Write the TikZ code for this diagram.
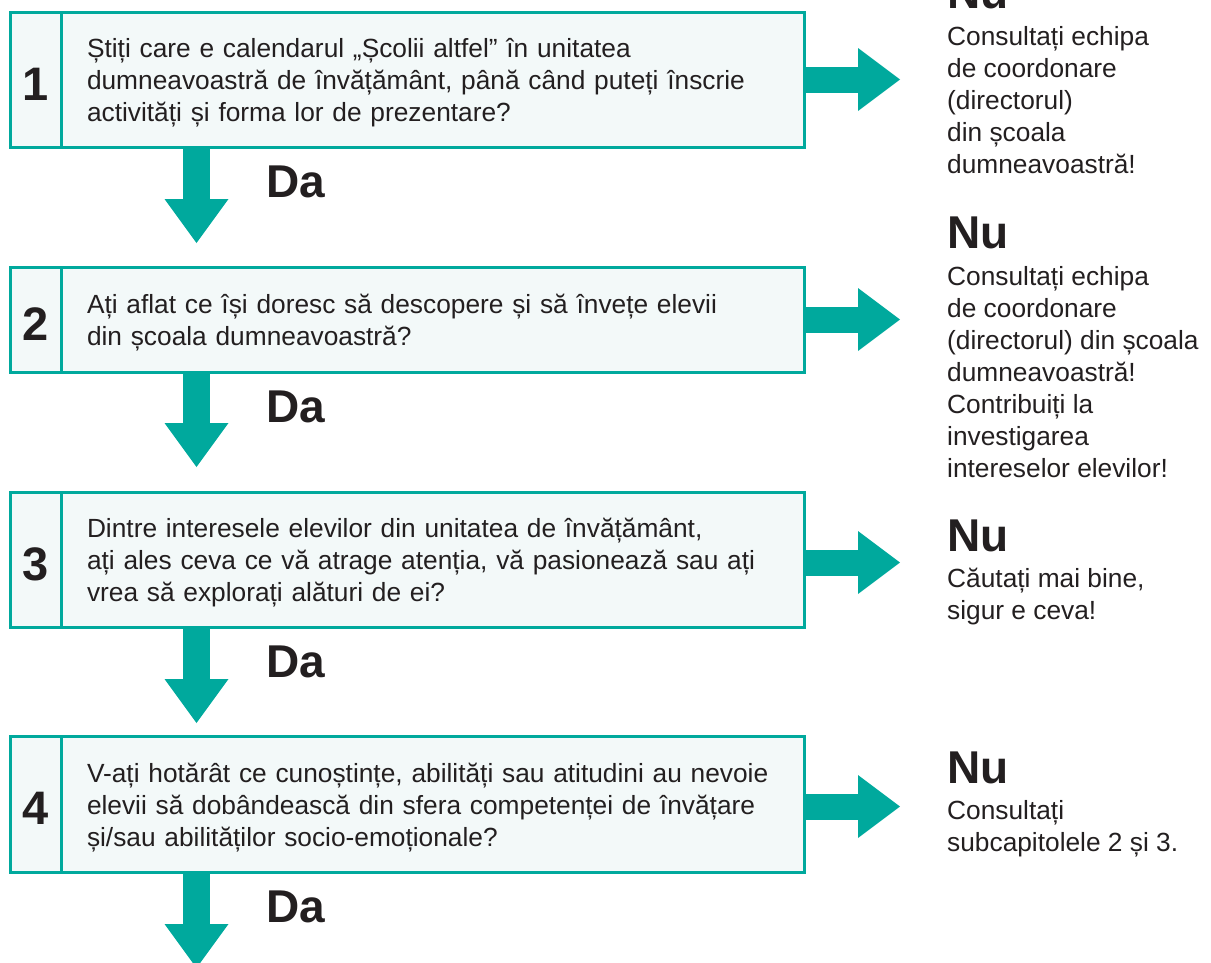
\documentclass[tikz,border=0pt]{standalone}
\usepackage{fontspec}
\setmainfont{Liberation Sans}
\usetikzlibrary{arrows.meta, positioning, calc}

\definecolor{tealc}{HTML}{00A99D}
\definecolor{boxfill}{HTML}{F3F9F9}
\definecolor{ink}{HTML}{231F20}

\begin{document}
\begin{tikzpicture}[x=1pt, y=-1pt,
    cell/.style={draw=tealc, line width=3pt, fill=boxfill, outer sep=0pt, text=ink},
    numcell/.style={cell, minimum width=51pt, inner sep=0pt, text height=41pt, text depth=0pt, font=\bfseries\fontsize{47}{47}\selectfont},
    qcell/.style={cell, text width=691pt, inner xsep=26pt, inner ysep=0pt, align=left, font=\fontsize{26.3}{32}\selectfont,
        execute at begin node={\rule{0pt}{30pt}}, execute at end node={\rule[-10pt]{0pt}{10pt}}},
    dnarrow/.style={draw=tealc, line width=27pt, shorten <=1.5pt, -{Triangle[length=44pt, width=64pt, line width=0pt]}},
    rtarrow/.style={draw=tealc, line width=26pt, shorten <=2pt, -{Triangle[length=42pt, width=63pt, line width=0pt]}},
    bigword/.style={anchor=base west, inner sep=0pt, text=ink, font=\bfseries\fontsize{46}{46}\selectfont},
    nutext/.style={anchor=base west, inner sep=0pt, text=ink, align=left, font=\fontsize{26.3}{32}\selectfont}]

    \useasboundingbox (0,0) rectangle (1211,962);

    % questions
    \node[numcell, minimum height=135pt] (n1) at (35.5,79.5) {1};
    \node[qcell, minimum height=135pt, right=0pt of n1] (q1) {Știți care e calendarul „Școlii altfel” în unitatea\\dumneavoastră de învățământ, până când puteți înscrie\\activități și forma lor de prezentare?};

    \node[numcell, minimum height=105pt] (n2) at (35.5,319.5) {2};
    \node[qcell, minimum height=105pt, right=0pt of n2] (q2) {Ați aflat ce își doresc să descopere și să învețe elevii\\din școala dumneavoastră?};

    \node[numcell, minimum height=135pt] (n3) at (35.5,559.5) {3};
    \node[qcell, minimum height=135pt, right=0pt of n3] (q3) {Dintre interesele elevilor din unitatea de învățământ,\\ați ales ceva ce vă atrage atenția, vă pasionează sau ați\\vrea să explorați alături de ei?};

    \node[numcell, minimum height=136pt] (n4) at (35.5,804) {4};
    \node[qcell, minimum height=136pt, right=0pt of n4] (q4) {V-ați hotărât ce cunoștințe, abilități sau atitudini au nevoie\\elevii să dobândească din sfera competenței de învățare\\și/sau abilităților socio-emoționale?};

    % Da arrows
    \coordinate (dt1) at ([xshift=186.5pt,yshift=-96pt]n1.south west);
    \coordinate (dt2) at ([xshift=186.5pt,yshift=-95pt]n2.south west);
    \coordinate (dt3) at ([xshift=186.5pt,yshift=-96pt]n3.south west);
    \coordinate (dt4) at ([xshift=186.5pt,yshift=-96pt]n4.south west);
    \draw[dnarrow] (n1.south west -| dt1) -- (dt1);
    \draw[dnarrow] (n2.south west -| dt2) -- (dt2);
    \draw[dnarrow] (n3.south west -| dt3) -- (dt3);
    \draw[dnarrow] (n4.south west -| dt4) -- (dt4);

    \node[bigword] (da1) at (266,197) {Da};
    \node[bigword] (da2) at (266,422) {Da};
    \node[bigword] (da3) at (266,677) {Da};
    \node[bigword] (da4) at (266,922) {Da};

    % Nu arrows
    \coordinate (rt1) at ([xshift=96pt]q1.east);
    \coordinate (rt2) at ([xshift=96pt]q2.east);
    \coordinate (rt3) at ([xshift=96pt,yshift=-3pt]q3.east);
    \coordinate (rt4) at ([xshift=96pt,yshift=-2.5pt]q4.east);
    \draw[rtarrow] (q1.east) -- (rt1);
    \draw[rtarrow] (q2.east) -- (rt2);
    \draw[rtarrow] (q3.east |- rt3) -- (rt3);
    \draw[rtarrow] (q4.east |- rt4) -- (rt4);

    % base of a text block = its last line
    \node[bigword] (nu1) at (947,8) {Nu};
    \node[nutext] (tx1) at (947,173) {Consultați echipa\\de coordonare\\(directorul)\\din școala\\dumneavoastră!};

    \node[bigword] (nu2) at (947,248) {Nu};
    \node[nutext] (tx2) at (947,477) {Consultați echipa\\de coordonare\\(directorul) din școala\\dumneavoastră!\\Contribuiți la\\investigarea\\intereselor elevilor!};

    \node[bigword] (nu3) at (947,551) {Nu};
    \node[nutext] (tx3) at (947,619) {Căutați mai bine,\\sigur e ceva!};

    \node[bigword] (nu4) at (947,783) {Nu};
    \node[nutext] (tx4) at (947,851) {Consultați\\subcapitolele 2 și 3.};

\end{tikzpicture}
\end{document}
